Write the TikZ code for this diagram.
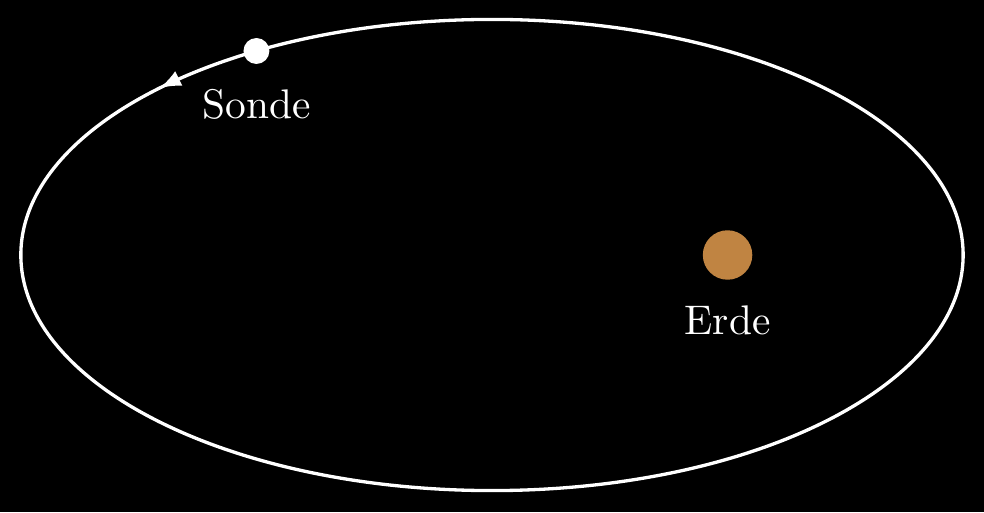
\documentclass[tikz,border=0pt]{standalone}
\usetikzlibrary{positioning,decorations.markings}
\definecolor{erdfarbe}{RGB}{192,132,66}
\begin{document}
\begin{tikzpicture}
  \fill[black] (-4.177,-2.182) rectangle (4.177,2.165);
  \draw[thick,white,postaction={decorate},
    decoration={markings,mark=at position 0.4 with {\arrow{latex}}}] (0,0) ellipse (4 and 2);
  \node[circle,fill=erdfarbe,minimum size=0.42cm,inner sep=0pt] (erde) at (2,0) {};
  \node[circle,fill=white,minimum size=0.22cm,inner sep=0pt] (sonde) at (120:4 and 2) {};
  \node[white,below=2.5pt of erde] (erdetext) {Erde};
  \node[white,below=2.5pt of sonde] (sondetext) {Sonde};
\end{tikzpicture}
\end{document}
